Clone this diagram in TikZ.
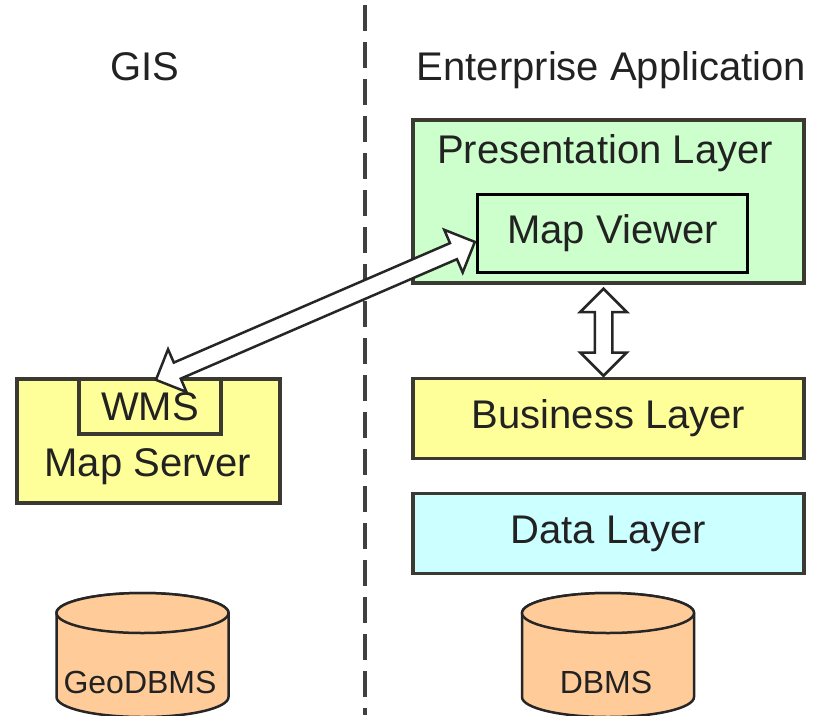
\documentclass[tikz,border=0pt]{standalone}
\usepackage{fontspec}
\setmainfont{Liberation Sans}
\usetikzlibrary{calc,shapes.arrows}

\definecolor{presgreen}{HTML}{CCFFCC}
\definecolor{busyellow}{HTML}{FFFF99}
\definecolor{datacyan}{HTML}{CCFFFF}
\definecolor{dbpeach}{HTML}{FFCC99}
\definecolor{boxline}{HTML}{3A3A32}
\definecolor{inktext}{HTML}{222222}

\tikzset{
  bigtext/.style={text=inktext, font=\fontsize{40}{48}\selectfont, inner sep=0pt},
  smalltext/.style={text=inktext, font=\fontsize{32}{38}\selectfont, inner sep=0pt},
  layer/.style={draw=boxline, line width=3.5pt, bigtext},
  dbcyl/.style={draw=black!85, line width=2.5pt, fill=dbpeach},
  biarrow/.style={double arrow, draw=black!85, fill=white, line width=2.5pt,
    inner xsep=0pt, inner ysep=7.5pt, minimum width=1pt,
    double arrow head extend=14.5pt, double arrow tip angle=90},
}

\begin{document}
\begin{tikzpicture}[x=1pt, y=-1pt]
  \useasboundingbox (0,0) rectangle (813,715);

  % divider
  \draw[color=black!75, line width=3.5pt, dash pattern=on 26pt off 11pt] (365,5) -- (365,715);

  \node[bigtext, anchor=base] (gis) at (145,80) {GIS};
  \node[bigtext, anchor=base] (ent) at (611.5,80) {Enterprise Application};

  % enterprise side
  \node[layer, fill=presgreen, minimum width=391, minimum height=163] (pres) at (608.5,201.5) {};
  \node[bigtext, anchor=base] (prestitle) at (605,163) {Presentation Layer};
  \node[layer, draw=black, fill=presgreen, minimum width=270, minimum height=78] (viewer) at (612.5,233.5) {Map Viewer};
  \node[layer, fill=busyellow, minimum width=391, minimum height=80] (biz) at (608.5,418.5) {Business Layer};
  \node[layer, fill=datacyan, minimum width=391, minimum height=80] (data) at (608.5,533.5) {Data Layer};

  % gis side
  \node[layer, fill=busyellow, minimum width=263, minimum height=124] (mapsrv) at (148.5,441) {};
  \node[layer, fill=busyellow, minimum width=142, minimum height=55] (wms) at (150,406.5) {WMS};
  \node[bigtext, anchor=base] (srvtitle) at (148,476) {Map Server};

  % databases
  \draw[dbcyl] (56.5,613) -- (56.5,697) arc[start angle=180, end angle=0, x radius=86, y radius=20]
    -- (228.5,613) arc[start angle=0, end angle=-180, x radius=86, y radius=20] -- cycle;
  \draw[dbcyl] (142.5,613) ellipse[x radius=86, y radius=20];
  \node[smalltext, anchor=base] (geodb) at (140,693) {GeoDBMS};

  \draw[dbcyl] (522,613) -- (522,697) arc[start angle=180, end angle=0, x radius=86, y radius=20]
    -- (694,613) arc[start angle=0, end angle=-180, x radius=86, y radius=20] -- cycle;
  \draw[dbcyl] (608,613) ellipse[x radius=86, y radius=20];
  \node[smalltext, anchor=base] (db) at (606,693) {DBMS};

  % connectors
  \path let \p1=([xshift=5pt,yshift=-3pt]wms.north), \p2=([yshift=-8pt]viewer.west),
    \n1={atan2(\y2-\y1,\x2-\x1)}, \n2={veclen(\x2-\x1,\y2-\y1)} in
    node[biarrow, rotate=\n1, minimum height=\n2-2pt] (link) at ($(\p1)!0.5!(\p2)$) {};
  \path let \p1=([xshift=-5pt,yshift=-3pt]pres.south), \p2=([xshift=-5pt]biz.north),
    \n1={atan2(\y2-\y1,\x2-\x1)}, \n2={veclen(\x2-\x1,\y2-\y1)} in
    node[biarrow, rotate=\n1, minimum height=\n2-2pt] (flow) at ($(\p1)!0.5!(\p2)$) {};
\end{tikzpicture}
\end{document}
